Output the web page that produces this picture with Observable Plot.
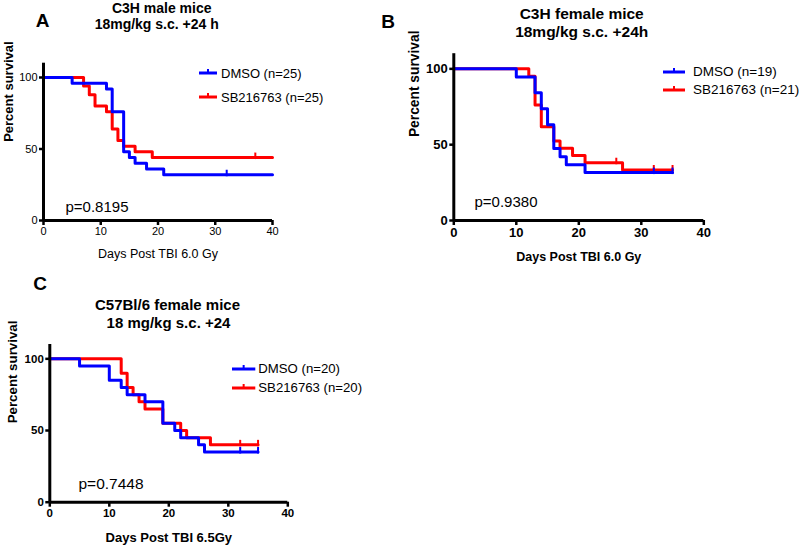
<!DOCTYPE html>
<html><head><meta charset="utf-8">
<script src="https://cdn.jsdelivr.net/npm/d3@7"></script>
<script src="https://cdn.jsdelivr.net/npm/@observablehq/plot@0.6"></script>
<style>
body{margin:0;background:#fff;}
#wrap{position:relative;width:800px;height:545px;overflow:hidden;font-family:"Liberation Sans",Arial,sans-serif;color:#000;background:#fff;}
.c{position:absolute;white-space:nowrap;line-height:1;transform:translate(-50%,-50%);}
.l{position:absolute;white-space:nowrap;line-height:1;transform:translateY(-50%);}
.plot{position:absolute;}
</style></head><body><div id="wrap"></div>
<script>
const BLUE = "#0000ff", RED = "#ff0000";
const xTicks = [0, 10, 20, 30, 40];
const yTicks = [0, 50, 100];

// Panel A: C3H male mice
const aDmsoDays = [0, 5, 11, 12, 14, 15, 16, 18, 21, 40];
const aDmsoSurv = [100, 96, 92, 76, 48, 44, 40, 36, 32, 32];
const aDmsoCensorDays = [32];
const aDmsoCensorSurv = [32];
const aSbDays = [0, 7, 8, 9, 11, 12, 13, 14, 16, 19, 40];
const aSbSurv = [100, 94, 88, 80, 76, 64, 56, 52, 48, 44, 44];
const aSbCensorDays = [37];
const aSbCensorSurv = [44];
const aLegend = ["DMSO (n=25)", "SB216763 (n=25)"];

// Panel B: C3H female mice
const bDmsoDays = [0, 10, 13, 14, 15, 16, 17, 18, 21, 35];
const bDmsoSurv = [100, 94.7, 84.2, 73.7, 63.2, 47.4, 42.1, 36.8, 31.6, 31.6];
const bDmsoCensorDays = [32, 35];
const bDmsoCensorSurv = [31.6, 31.6];
const bSbDays = [0, 12, 13, 14, 16, 17, 19, 21, 27, 35];
const bSbSurv = [100, 95.2, 76.2, 61.9, 52.4, 47.6, 42.9, 38.1, 33.3, 33.3];
const bSbCensorDays = [26, 32, 35];
const bSbCensorSurv = [38.1, 33.3, 33.3];
const bLegend = ["DMSO (n=19)", "SB216763 (n=21)"];

// Panel C: C57Bl/6 female mice
const cDmsoDays = [0, 5, 10, 12, 13, 16, 19, 21, 22, 25, 26, 35];
const cDmsoSurv = [100, 95, 85, 80, 75, 70, 55, 50, 45, 40, 35, 35];
const cDmsoCensorDays = [32, 35];
const cDmsoCensorSurv = [35, 35];
const cSbDays = [0, 12, 13, 14, 15, 16, 19, 22, 23, 27, 35];
const cSbSurv = [100, 90, 80, 75, 70, 65, 55, 50, 45, 40, 40];
const cSbCensorDays = [32, 35];
const cSbCensorSurv = [40, 40];
const cLegend = ["DMSO (n=20)", "SB216763 (n=20)"];

const rows = (days, surv) => days.map((d, i) => ({day: d, surv: surv[i]}));
const tickSym = {draw(ctx, size) { const h = Math.sqrt(size / Math.PI); ctx.moveTo(0, -h); ctx.lineTo(0, h * 0.3); }};

const wrap = document.getElementById("wrap");

function panel(p) {
  const chart = Plot.plot({
    width: p.w, height: p.h,
    marginLeft: p.ml, marginRight: p.mr, marginTop: p.mt, marginBottom: p.mb,
    x: {domain: [0, 40], label: null},
    y: {domain: [0, 110], label: null},
    style: {background: "transparent", color: "#000", fontFamily: "'Liberation Sans', Arial, sans-serif", overflow: "visible"},
    marks: [
      Plot.line(rows(p.sbDays, p.sbSurv), {x: "day", y: "surv", curve: "step-after", stroke: RED, strokeWidth: 3}),
      Plot.dot(rows(p.sbCD, p.sbCS), {x: "day", y: "surv", symbol: tickSym, r: 5, stroke: RED, strokeWidth: 2, fill: "none"}),
      Plot.line(rows(p.dmDays, p.dmSurv), {x: "day", y: "surv", curve: "step-after", stroke: BLUE, strokeWidth: 3}),
      Plot.dot(rows(p.dmCD, p.dmCS), {x: "day", y: "surv", symbol: tickSym, r: 5, stroke: BLUE, strokeWidth: 2, fill: "none"}),
      Plot.ruleX([0], {stroke: "#000", strokeWidth: 3}),
      Plot.ruleY([0], {stroke: "#000", strokeWidth: 3}),
      Plot.axisX({ticks: xTicks, tickSize: 5, tickPadding: 2, strokeWidth: 2.5, fontSize: p.tf, fontWeight: p.tw, label: null}),
      Plot.axisY({ticks: yTicks, tickSize: 4, tickPadding: 2, strokeWidth: 2.5, fontSize: p.tf, fontWeight: p.tw, label: null}),
      Plot.text([p.xLabel], {text: d => d, frameAnchor: "bottom", dy: p.xdy, lineAnchor: "middle", fontSize: p.xf, fontWeight: p.xw}),
      Plot.text(["Percent survival"], {text: d => d, frameAnchor: "left", rotate: -90, dx: p.ydx, lineAnchor: "middle", fontSize: p.yf, fontWeight: "bold"}),
      Plot.text([p.pText], {text: d => d, frameAnchor: "bottom-left", textAnchor: "start", lineAnchor: "middle", dx: p.pdx, dy: p.pdy, fontSize: p.pf})
    ]
  });
  chart.classList.add("plot");
  chart.style.left = p.left + "px";
  chart.style.top = p.top + "px";
  wrap.appendChild(chart);

  // letter and titles
  const add = (cls, txt, x, y, css) => {
    const d = document.createElement("div");
    d.className = cls; d.textContent = txt;
    d.style.left = x + "px"; d.style.top = y + "px";
    Object.assign(d.style, css);
    wrap.appendChild(d);
  };
  add("c", p.letter, p.lx, p.ly, {fontSize: "19px", fontWeight: "bold"});
  add("c", p.t1, p.t1x, p.t1y, {fontSize: p.tsz + "px", fontWeight: "bold"});
  add("c", p.t2, p.t2x, p.t2y, {fontSize: p.tsz + "px", fontWeight: "bold"});

  // legend
  [[p.legend[0], BLUE, p.gy1], [p.legend[1], RED, p.gy2]].forEach(([lab, col, y]) => {
    const s = document.createElementNS("http://www.w3.org/2000/svg", "svg");
    const w = p.gx2 - p.gx1;
    s.setAttribute("width", w + 4); s.setAttribute("height", 12);
    s.style.position = "absolute";
    s.style.left = (p.gx1 - 2) + "px"; s.style.top = (y - 7) + "px";
    s.innerHTML = `<line x1="2" x2="${w + 2}" y1="7" y2="7" stroke="${col}" stroke-width="3"/>` +
      `<line x1="${w / 2 + 2}" x2="${w / 2 + 2}" y1="3" y2="7" stroke="${col}" stroke-width="2"/>`;
    wrap.appendChild(s);
    add("l", lab, p.gtx, y, {fontSize: p.gf + "px"});
  });
}

panel({
  left: 0, top: 0, w: 400, h: 270, ml: 43, mr: 128, mt: 62.7, mb: 50,
  dmDays: aDmsoDays, dmSurv: aDmsoSurv, dmCD: aDmsoCensorDays, dmCS: aDmsoCensorSurv,
  sbDays: aSbDays, sbSurv: aSbSurv, sbCD: aSbCensorDays, sbCS: aSbCensorSurv,
  tf: 11, tw: "normal",
  xLabel: "Days Post TBI 6.0 Gy", xdy: 33, xf: 12.5, xw: "normal",
  ydx: -35, yf: 13,
  pText: "p=0.8195", pdx: 22, pdy: -13.3, pf: 15,
  letter: "A", lx: 42.5, ly: 20,
  t1: "C3H male mice", t1x: 161.7, t1y: 7.5,
  t2: "18mg/kg s.c. +24 h", t2x: 156.7, t2y: 23.5, tsz: 14,
  legend: aLegend, gx1: 199, gx2: 217, gtx: 221, gy1: 73, gy2: 97, gf: 13
});

panel({
  left: 400, top: 0, w: 400, h: 270, ml: 53.3, mr: 96.7, mt: 53.2, mb: 50,
  dmDays: bDmsoDays, dmSurv: bDmsoSurv, dmCD: bDmsoCensorDays, dmCS: bDmsoCensorSurv,
  sbDays: bSbDays, sbSurv: bSbSurv, sbCD: bSbCensorDays, sbCS: bSbCensorSurv,
  tf: 13, tw: "bold",
  xLabel: "Days Post TBI 6.0 Gy", xdy: 36, xf: 12.5, xw: "bold",
  ydx: -39.3, yf: 13.8,
  pText: "p=0.9380", pdx: 20.7, pdy: -18.3, pf: 15,
  letter: "B", lx: 388, ly: 20.5,
  t1: "C3H female mice", t1x: 581.7, t1y: 14.2,
  t2: "18mg/kg s.c. +24h", t2x: 581.7, t2y: 32, tsz: 15.5,
  legend: bLegend, gx1: 663, gx2: 685, gtx: 693, gy1: 71.7, gy2: 90, gf: 13.5
});

panel({
  left: 0, top: 270, w: 400, h: 275, ml: 49.3, mr: 112.7, mt: 74, mb: 43.3,
  dmDays: cDmsoDays, dmSurv: cDmsoSurv, dmCD: cDmsoCensorDays, dmCS: cDmsoCensorSurv,
  sbDays: cSbDays, sbSurv: cSbSurv, sbCD: cSbCensorDays, sbCS: cSbCensorSurv,
  tf: 11.5, tw: "bold",
  xLabel: "Days Post TBI 6.5Gy", xdy: 35.3, xf: 13, xw: "bold",
  ydx: -37.3, yf: 13.3,
  pText: "p=0.7448", pdx: 28.7, pdy: -18.4, pf: 15.5,
  letter: "C", lx: 40, ly: 283.3,
  t1: "C57Bl/6 female mice", t1x: 167.5, t1y: 304,
  t2: "18 mg/kg s.c. +24", t2x: 168.5, t2y: 322, tsz: 15,
  legend: cLegend, gx1: 231.7, gx2: 255, gtx: 258.3, gy1: 369.3, gy2: 387.7, gf: 13.2
});
</script></body></html>
